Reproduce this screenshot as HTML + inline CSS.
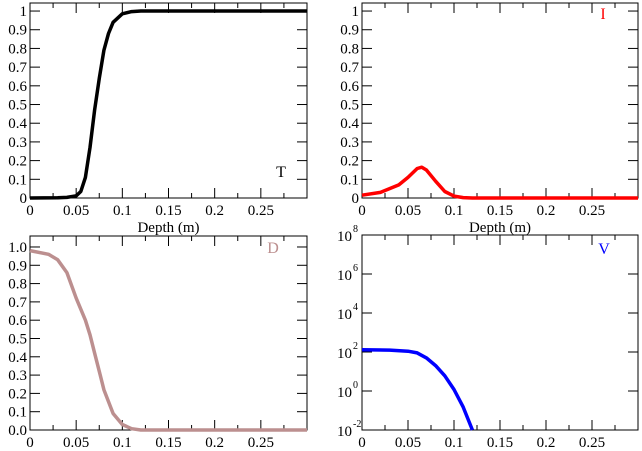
<!DOCTYPE html>
<html><head><meta charset="utf-8"><style>
body{margin:0;background:#fff}
svg{display:block;font-family:"Liberation Serif",serif}
</style></head><body>
<svg id="c" width="642" height="451" viewBox="0 0 642 451" xmlns="http://www.w3.org/2000/svg"></svg>
<script>
const depthT=[0,0.03,0.04,0.05,0.055,0.06,0.065,0.07,0.075,0.08,0.085,0.09,0.1,0.11,0.12,0.3];
const valsT=[0,0.001,0.003,0.012,0.035,0.11,0.27,0.47,0.64,0.79,0.88,0.94,0.985,0.997,1,1];
const depthI=[0,0.02,0.04,0.05,0.06,0.065,0.07,0.08,0.09,0.1,0.11,0.12,0.3];
const valsI=[0.015,0.03,0.07,0.11,0.158,0.165,0.15,0.09,0.035,0.01,0.002,0,0];
const depthD=[0,0.02,0.03,0.04,0.05,0.06,0.065,0.07,0.075,0.08,0.09,0.1,0.11,0.12,0.3];
const valsD=[0.98,0.96,0.93,0.86,0.72,0.6,0.52,0.42,0.32,0.22,0.09,0.03,0.007,0,0];
const depthV=[0,0.03,0.05,0.06,0.07,0.08,0.09,0.1,0.11,0.12];
const valsV=[130,125,110,90,50,20,6,1.2,0.15,0.01];
const xTicks=["0","0.05","0.1","0.15","0.2","0.25"];
const linTicks=["0","0.1","0.2","0.3","0.4","0.5","0.6","0.7","0.8","0.9","1"];
const linTicksD=["0.0","0.1","0.2","0.3","0.4","0.5","0.6","0.7","0.8","0.9","1.0"];
const logExps=[-2,0,2,4,6,8];

const svg=document.getElementById('c');
const NS="http://www.w3.org/2000/svg";
function mk(t,a,name){const e=document.createElementNS(NS,t);for(const k in a)e.setAttribute(k,a[k]);


svg.appendChild(e);return e;}

function panel(o){
 const {x0,x1,y0,y1,ymin,ymax,log}=o;
 const sx=v=>x0+(v/0.3)*(x1-x0);
 const sy=v=>{const t=log?Math.log10(v):v;return y1-(t-ymin)/(ymax-ymin)*(y1-y0);};
 mk('rect',{x:x0,y:y0,width:x1-x0,height:y1-y0,fill:'none',stroke:'#000','stroke-width':1},o.id+'-frame');
 for(let i=0;i<12;i++){const v=i*0.025,X=sx(v),L=i%2==0?10:5;
  mk('line',{x1:X,y1:y1,x2:X,y2:y1-L,stroke:'#000'},o.id+'-x-tick');
  mk('line',{x1:X,y1:y0,x2:X,y2:y0+L,stroke:'#000'},o.id+'-x-tick-top');}
 xTicks.forEach((t,i)=>{const e=mk('text',{x:sx(i*0.05),y:y1+17,'text-anchor':'middle','font-size':15},o.id+'-x-label');e.textContent=t;});
 if(o.xtitle){const e=mk('text',{x:(x0+x1)/2,y:y1+34,'text-anchor':'middle','font-size':15},o.id+'-x-axis-title');e.textContent='Depth (m)';}
 if(!log){
  o.ticks.forEach((t,i)=>{const Y=sy(i*0.1);
   mk('line',{x1:x0,y1:Y,x2:x0+10,y2:Y,stroke:'#000'},o.id+'-y-tick');
   mk('line',{x1:x1,y1:Y,x2:x1-10,y2:Y,stroke:'#000'},o.id+'-y-tick-right');
   const e=mk('text',{x:x0-3,y:Y+5,'text-anchor':'end','font-size':15},o.id+'-y-label');e.textContent=t;});
 } else {
  logExps.forEach(p=>{const Y=sy(Math.pow(10,p));
   mk('line',{x1:x0,y1:Y,x2:x0+10,y2:Y,stroke:'#000'},o.id+'-y-tick');
   mk('line',{x1:x1,y1:Y,x2:x1-10,y2:Y,stroke:'#000'},o.id+'-y-tick-right');
   const e=mk('text',{x:x0-10,y:Y+6,'text-anchor':'end','font-size':15},o.id+'-y-label');e.textContent='10';
   const s=mk('text',{x:x0-9,y:Y-3,'text-anchor':'start','font-size':10},o.id+'-y-label-exp');s.textContent=String(p);});
 }
 const d=o.xs.map((v,i)=>(i?'L':'M')+sx(v).toFixed(1)+','+sy(o.ys[i]).toFixed(1)).join('');
 mk('path',{d:d,fill:'none',stroke:o.color,'stroke-width':3.5,'stroke-linejoin':'round'},o.id+'-series-line');
 const e=mk('text',{x:o.lx,y:o.ly,'text-anchor':'middle','font-size':16,fill:o.color},o.id+'-series-label');e.textContent=o.label;
}
panel({id:'t-panel',x0:30,x1:307,y0:3,y1:198,ymin:0,ymax:1.043,ticks:linTicks,xs:depthT,ys:valsT,color:'#000',label:'T',lx:281,ly:177,xtitle:true});
panel({id:'i-panel',x0:362,x1:638,y0:3,y1:198,ymin:0,ymax:1.043,ticks:linTicks,xs:depthI,ys:valsI,color:'#f00',label:'I',lx:603,ly:19,xtitle:true});
panel({id:'d-panel',x0:30,x1:307,y0:236,y1:430,ymin:0,ymax:1.06,ticks:linTicksD,xs:depthD,ys:valsD,color:'#bc8f8f',label:'D',lx:273,ly:253});
panel({id:'v-panel',x0:362,x1:638,y0:235,y1:430,ymin:-2,ymax:8,log:true,xs:depthV,ys:valsV,color:'#00f',label:'V',lx:604,ly:254});
</script>
</body></html>
